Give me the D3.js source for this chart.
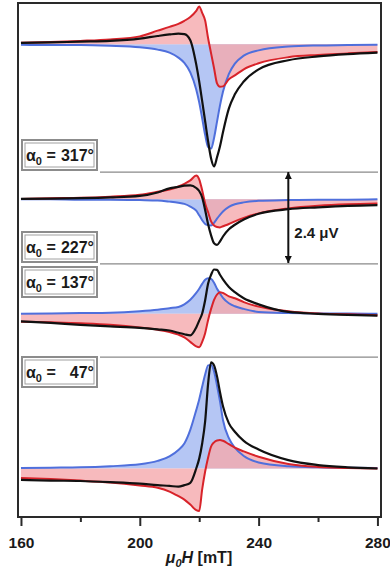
<!DOCTYPE html>
<html>
<head>
<meta charset="utf-8">
<script src="https://cdn.jsdelivr.net/npm/d3@7"></script>
<style>
  html, body { margin: 0; padding: 0; background: #fff; }
  svg { display: block; font-family: "Liberation Sans", Arial, sans-serif; }
</style>
</head>
<body>
<div id="chart"></div>
<script>
// magnetic field samples (mT)
const field = [160, 170, 180, 190, 200, 206, 210, 213, 215, 217, 219, 220, 221, 222,
               223, 224, 225, 226, 227, 228, 230, 232, 235, 240, 250, 260, 270, 280];

const angles = ['317°', '227°', '137°', '47°'];
// vertical offset of each trace (μV)
const offsets = [11.19, 7.10, 4.08, 0];
// grey separators between the traces (μV)
const dividers = [7.82, 5.40, 2.94];
const xTicks = [160, 200, 240, 280];
const xMinorTicks = [180, 220, 260];
const scaleBar = 2.4; // μV
const scaleBarField = 250;

// symmetric (blue), antisymmetric (red) and measured (black) voltages, μV
const sym317 = [-0.01, -0.02, -0.02, -0.04, -0.08, -0.14, -0.22, -0.35, -0.49, -0.74, -1.19, -1.53, -1.95, -2.39,
                -2.71, -2.75, -2.47, -2.04, -1.61, -1.25, -0.78, -0.51, -0.30, -0.16, -0.06, -0.03, -0.02, -0.01];
const asym317 = [0.04, 0.06, 0.09, 0.13, 0.21, 0.36, 0.46, 0.54, 0.62, 0.72, 0.88, 1.00, 0.83, 0.63,
                 0.16, -0.24, -0.63, -1.03, -1.12, -1.11, -0.92, -0.82, -0.66, -0.50, -0.34, -0.28, -0.24, -0.20];
const total317 = [0.04, 0.05, 0.07, 0.09, 0.15, 0.22, 0.26, 0.28, 0.27, 0.11, -0.53, -0.98, -1.50, -2.03,
                  -2.56, -3.01, -3.22, -2.98, -2.69, -2.32, -1.69, -1.32, -0.98, -0.66, -0.42, -0.32, -0.26, -0.22];

const sym227 = [0.00, 0.00, -0.01, -0.01, -0.02, -0.03, -0.06, -0.09, -0.12, -0.19, -0.30, -0.42, -0.55, -0.65,
                -0.68, -0.69, -0.62, -0.51, -0.41, -0.32, -0.20, -0.13, -0.08, -0.04, -0.02, -0.01, -0.01, 0.00];
const asym227 = [0.01, 0.03, 0.04, 0.07, 0.12, 0.20, 0.26, 0.34, 0.41, 0.50, 0.63, 0.53, 0.24, -0.11,
                 -0.34, -0.58, -0.69, -0.73, -0.74, -0.71, -0.65, -0.58, -0.49, -0.37, -0.24, -0.17, -0.13, -0.11];
const total227 = [0.01, 0.02, 0.03, 0.05, 0.09, 0.18, 0.29, 0.33, 0.36, 0.37, 0.30, 0.22, 0.05, -0.28,
                  -0.66, -0.95, -1.16, -1.20, -1.11, -0.98, -0.79, -0.67, -0.53, -0.38, -0.26, -0.21, -0.17, -0.15];

const sym137 = [0.00, 0.01, 0.02, 0.03, 0.07, 0.11, 0.15, 0.18, 0.25, 0.37, 0.55, 0.66, 0.79, 0.90,
                0.94, 0.92, 0.82, 0.66, 0.54, 0.42, 0.28, 0.20, 0.13, 0.05, 0.02, 0.01, 0.01, 0.00];
const asym137 = [-0.21, -0.22, -0.25, -0.29, -0.36, -0.42, -0.48, -0.55, -0.62, -0.74, -0.86, -0.88, -0.74, -0.51,
                 -0.16, 0.13, 0.37, 0.51, 0.57, 0.55, 0.46, 0.41, 0.31, 0.19, 0.07, 0.01, -0.01, -0.04];
const total137 = [-0.20, -0.24, -0.29, -0.33, -0.37, -0.41, -0.44, -0.50, -0.54, -0.57, -0.36, -0.18, 0.01, 0.36,
                  0.80, 1.03, 1.17, 1.16, 1.03, 0.91, 0.71, 0.57, 0.41, 0.25, 0.05, 0.00, -0.03, -0.05];

const sym47 = [0.01, 0.02, 0.03, 0.06, 0.11, 0.20, 0.32, 0.49, 0.66, 1.02, 1.54, 1.82, 2.16, 2.48,
               2.72, 2.73, 2.56, 2.19, 1.77, 1.28, 0.80, 0.55, 0.33, 0.16, 0.06, 0.03, 0.02, 0.01];
const asym47 = [-0.25, -0.28, -0.32, -0.37, -0.45, -0.51, -0.61, -0.73, -0.82, -0.95, -1.10, -1.12, -0.55, -0.08,
                0.29, 0.58, 0.69, 0.74, 0.75, 0.73, 0.64, 0.55, 0.45, 0.31, 0.12, 0.04, 0.01, 0.00];
const total47 = [-0.30, -0.32, -0.33, -0.36, -0.40, -0.44, -0.46, -0.48, -0.44, -0.38, 0.00, 0.26, 0.66, 1.24,
                 2.24, 2.80, 2.72, 2.43, 2.01, 1.64, 1.19, 0.97, 0.73, 0.50, 0.22, 0.09, 0.03, 0.00];

const panels = [
    { angle: angles[0], off: offsets[0], sym: sym317, asym: asym317, total: total317 },
    { angle: angles[1], off: offsets[1], sym: sym227, asym: asym227, total: total227 },
    { angle: angles[2], off: offsets[2], sym: sym137, asym: asym137, total: total137 },
    { angle: angles[3], off: offsets[3], sym: sym47, asym: asym47, total: total47 },
];

const width = 390, height = 571;
const frame = { left: 18, right: 381, top: 3, bottom: 517 };

const x = d3.scaleLinear().domain([159, 281.2]).range([frame.left, frame.right]);
const y = d3.scaleLinear().domain([-1.28, 12.28]).range([frame.bottom, frame.top]);

const svg = d3.select('#chart').append('svg')
    .attr('width', width)
    .attr('height', height);

// separators
svg.append('g')
    .selectAll('line')
    .data(dividers)
    .join('line')
    .attr('x1', 100)
    .attr('x2', 378)
    .attr('y1', d => y(d))
    .attr('y2', d => y(d))
    .attr('stroke', '#8a8a8a')
    .attr('stroke-width', 1.3);

// traces
const plot = svg.append('g');
panels.forEach(p => {
    const pts = arr => field.map((h, i) => [h, arr[i]]);
    const area = d3.area()
        .x(d => x(d[0]))
        .y0(y(p.off))
        .y1(d => y(p.off + d[1]))
        .curve(d3.curveMonotoneX);
    const line = d3.line()
        .x(d => x(d[0]))
        .y(d => y(p.off + d[1]))
        .curve(d3.curveMonotoneX);

    plot.append('path').datum(pts(p.sym)).attr('d', area).attr('fill', '#b5c6f4');
    plot.append('path').datum(pts(p.asym)).attr('d', area).attr('fill', '#f5a9ad').attr('fill-opacity', 0.8);

    plot.append('path').datum(pts(p.sym)).attr('d', line)
        .attr('fill', 'none').attr('stroke', '#4f6fdc').attr('stroke-width', 2);
    plot.append('path').datum(pts(p.asym)).attr('d', line)
        .attr('fill', 'none').attr('stroke', '#d8232a').attr('stroke-width', 2);
    plot.append('path').datum(pts(p.total)).attr('d', line)
        .attr('fill', 'none').attr('stroke', '#111').attr('stroke-width', 2.2);
});

// frame
svg.append('rect')
    .attr('x', frame.left)
    .attr('y', frame.top)
    .attr('width', frame.right - frame.left)
    .attr('height', frame.bottom - frame.top)
    .attr('fill', 'none')
    .attr('stroke', '#2a2a2a')
    .attr('stroke-width', 2);

// x axis, major + minor ticks
const xAxis = svg.append('g')
    .attr('transform', `translate(0, ${frame.bottom})`)
    .call(d3.axisBottom(x).tickValues(xTicks).tickSize(9).tickPadding(11).tickFormat(d3.format('d')));
xAxis.select('.domain').remove();
xAxis.selectAll('line').attr('stroke', '#2a2a2a').attr('stroke-width', 2);
xAxis.selectAll('text')
    .attr('font-family', '"Liberation Sans", Arial, sans-serif')
    .attr('font-size', 15.5)
    .attr('font-weight', 'bold')
    .attr('fill', '#1a1a1a');

const xMinor = svg.append('g')
    .attr('transform', `translate(0, ${frame.bottom})`)
    .call(d3.axisBottom(x).tickValues(xMinorTicks).tickSize(5).tickFormat(''));
xMinor.select('.domain').remove();
xMinor.selectAll('line').attr('stroke', '#2a2a2a').attr('stroke-width', 2);

// axis title
const title = svg.append('text')
    .attr('x', 199)
    .attr('y', 563)
    .attr('text-anchor', 'middle')
    .attr('font-size', 16)
    .attr('font-weight', 'bold')
    .attr('fill', '#1a1a1a');
title.append('tspan').attr('font-style', 'italic').text('μ');
title.append('tspan').attr('font-style', 'italic').attr('font-size', 11).attr('dy', 4).text('0');
title.append('tspan').attr('font-style', 'italic').attr('dy', -4).text('H');
title.append('tspan').text(' [mT]');

// angle labels
const labelTop = [140, 232, 267, 357];
const labels = svg.append('g');
panels.forEach((p, i) => {
    const top = labelTop[i];
    const g = labels.append('g');
    g.append('rect')
        .attr('x', 22).attr('y', top).attr('width', 75).attr('height', 30)
        .attr('fill', '#fff').attr('stroke', '#8c8c8c').attr('stroke-width', 2);
    g.append('rect')
        .attr('x', 25).attr('y', top + 3).attr('width', 69).attr('height', 24)
        .attr('fill', 'none').attr('stroke', '#a0a0a0').attr('stroke-width', 1);
    const t = g.append('text')
        .attr('x', 26)
        .attr('y', top + 21)
        .attr('font-size', 16)
        .attr('font-weight', 'bold')
        .attr('fill', '#1a1a1a');
    t.append('tspan').text('α');
    t.append('tspan').attr('font-size', 11).attr('dy', 4).text('0');
    t.append('tspan').attr('dy', -4).text(' =');
    g.append('text')
        .attr('x', 94)
        .attr('y', top + 21)
        .attr('text-anchor', 'end')
        .attr('font-size', 16)
        .attr('font-weight', 'bold')
        .attr('fill', '#1a1a1a')
        .text(p.angle);
});

// 2.4 μV scale bar
const defs = svg.append('defs');
defs.append('marker')
    .attr('id', 'arrowHead')
    .attr('viewBox', '0 0 10 10')
    .attr('refX', 10)
    .attr('refY', 5)
    .attr('markerWidth', 10)
    .attr('markerHeight', 7)
    .attr('markerUnits', 'userSpaceOnUse')
    .attr('orient', 'auto-start-reverse')
    .append('path')
    .attr('d', 'M0,0 L10,5 L0,10 Z')
    .attr('fill', '#111');

svg.append('line')
    .attr('x1', x(scaleBarField))
    .attr('x2', x(scaleBarField))
    .attr('y1', y(dividers[0]))
    .attr('y2', y(dividers[0] - scaleBar))
    .attr('stroke', '#111')
    .attr('stroke-width', 2)
    .attr('marker-start', 'url(#arrowHead)')
    .attr('marker-end', 'url(#arrowHead)');

svg.append('text')
    .attr('x', x(scaleBarField) + 6)
    .attr('y', 238)
    .attr('font-size', 15)
    .attr('font-weight', 'bold')
    .attr('fill', '#1a1a1a')
    .text(`${scaleBar} μV`);
</script>
</body>
</html>
